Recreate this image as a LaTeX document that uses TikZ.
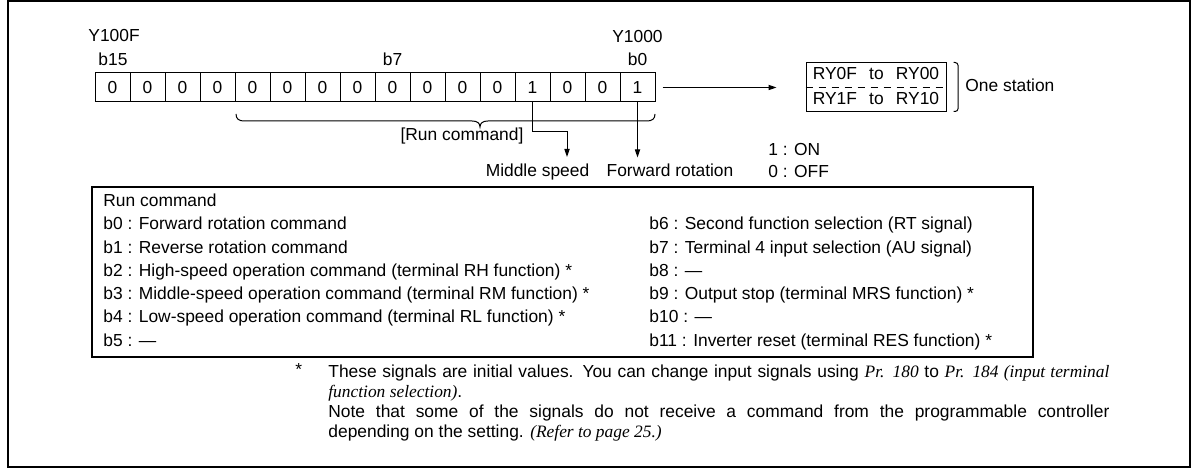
\documentclass[tikz,border=0pt]{standalone}
\usepackage{fontspec}
\setmainfont{Liberation Sans}
\newfontfamily\serifit{Liberation Serif}
\usetikzlibrary{arrows.meta}

\tikzset{%
  cell/.style={draw, line width=0.5pt, minimum width=17.5pt, minimum height=14.5pt, inner sep=0pt},%
  lbl/.style={inner sep=0pt, text height=6.3pt, text depth=1.8pt},%
  tip/.style={line width=0.5pt, -{Triangle[length=4pt,width=2.6pt]}},%
}
\newcommand{\prm}[1]{{\serifit\itshape #1}}

\begin{document}
\begin{tikzpicture}[x=0.5pt,y=-0.5pt,font=\fontsize{8.7}{10.4}\selectfont]%
  \useasboundingbox (0,0) rectangle (1193,469);%
  \draw [line width=1pt] (8,1) rectangle (1190,467);%
  % register Y100F ... Y1000
  \foreach \v [count=\n from 0] in {0,0,0,0,0,0,0,0,0,0,0,0,1,0,0,1}{%
    \pgfmathtruncatemacro{\bit}{15-\n}%
    \node [cell] (c\bit) at (112.5+35*\n,87.5) {\v};%
  }
  \node [lbl,anchor=west] (yhigh) at (88,37) {Y100F};%
  \node [lbl,anchor=west] (b15) at (98,61) {b15};%
  \node [lbl] (b7) at (392.5,61) {b7};%
  \node [lbl] (ylow) at (637.5,38) {Y1000};%
  \node [lbl] (b0) at (637.5,61) {b0};%
  % run command brace
  \draw [line width=0.5pt] (236,114) .. controls (236,119) and (239,121) .. (244,121) -- (472,121) .. controls (477,121) and (480,123) .. (480,127) .. controls (480,123) and (483,121) .. (488,121) -- (647,121) .. controls (652,121) and (655,119) .. (655,114);%
  \node [lbl] (runcmd) at (462,136) {[Run command]};%
  % bit arrows
  \node [lbl] (midspeed) at (537.5,172) {Middle speed};%
  \node [lbl] (fwdrot) at (670,172) {Forward rotation};%
  \coordinate (mbend) at (567,132);%
  \draw [tip] (c3.south) |- (mbend) -- ++(0,25);%
  \draw [tip] (c0.south) -- ++(0,55);%
  \node [lbl,anchor=west] (on) at (768,151) {1 : ON};%
  \node [lbl,anchor=west] (off) at (768,173) {0 : OFF};%
  % remote registers
  \node [draw,line width=0.5pt,minimum width=70pt,minimum height=24.5pt,inner sep=0pt] (rybox) at (876,87.5) {};%
  \node [lbl] (ryhi) at (876,75) {RY0F\hspace{0.7em}to\hspace{0.7em}RY00};%
  \node [lbl] (rylo) at (876,100) {RY1F\hspace{0.7em}to\hspace{0.7em}RY10};%
  \draw [line width=0.6pt,dash pattern=on 3.5pt off 3pt] (rybox.west) -- (rybox.east);%
  \draw [tip] ([xshift=3.5pt]c0.east) -- ([xshift=-14.5pt]rybox.west);%
  \draw [line width=0.5pt,rounded corners=1.5pt] ([xshift=3.5pt]rybox.north east) -- ++(2.3pt,0) -- ++(0,-24.5pt) -- ++(-2.3pt,0);%
  \node [lbl,anchor=west] (station) at (965,87) {One station};%
  % run command list
  \draw [line width=0.65pt] (92,187) rectangle (1033,357);%
  \foreach \t [count=\n from 0] in {{Run command},{b0 : Forward rotation command},{b1 : Reverse rotation command},{b2 : High-speed operation command (terminal RH function) *},{b3 : Middle-speed operation command (terminal RM function) *},{b4 : Low-speed operation command (terminal RL function) *},{b5 : ---}}{%
    \node [lbl,anchor=west] (left\n) at (103,202+23.3*\n) {\t};%
  }
  \foreach \t [count=\n from 1] in {{b6 : Second function selection (RT signal)},{b7 : Terminal 4 input selection (AU signal)},{b8 : ---},{b9 : Output stop (terminal MRS function) *},{b10 : ---},{b11 : Inverter reset (terminal RES function) *}}{%
    \node [lbl,anchor=west] (right\n) at (649,202+23.3*\n) {\t};%
  }
  % footnote
  \node [lbl,anchor=west] (star) at (295,371) {*};%
  \node [anchor=north west,inner sep=0pt,text width=390.5pt,align=justify] (note) at (328,364) {\baselineskip=10.1pt These signals are initial values. You can change input signals using \prm{Pr. 180} to \prm{Pr. 184 (input terminal\linebreak function selection)}.\par Note that some of the signals do not receive a command from the programmable controller\linebreak depending on the setting. \prm{(Refer to page 25.)}\par};%
\end{tikzpicture}
\end{document}
